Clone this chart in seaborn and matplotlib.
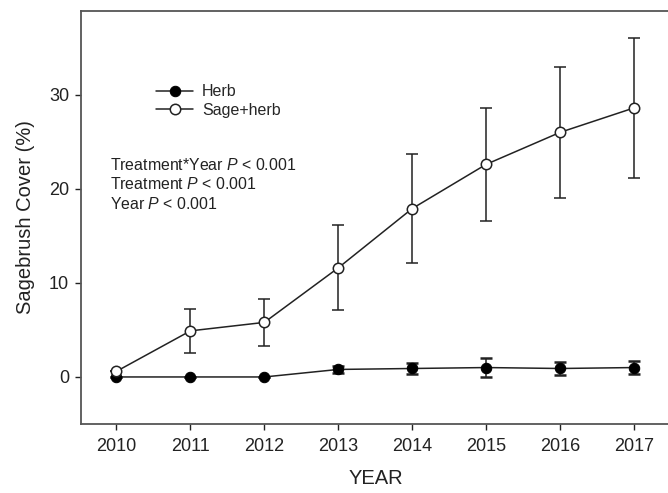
import numpy as np
import pandas as pd
import seaborn as sns
import matplotlib.pyplot as plt

# values
years = [2010, 2011, 2012, 2013, 2014, 2015, 2016, 2017]
herb = [0.0, 0.0, 0.0, 0.8, 0.9, 1.0, 0.9, 1.0]
herb_se = [0.0, 0.0, 0.0, 0.4, 0.6, 1.0, 0.7, 0.7]
sage = [0.6, 4.9, 5.8, 11.6, 17.9, 22.6, 26.0, 28.6]
sage_se = [0.0, 2.3, 2.5, 4.5, 5.8, 6.0, 7.0, 7.4]
stats_lines = ["Treatment*Year $\\it{P}$ < 0.001",
               "Treatment $\\it{P}$ < 0.001",
               "Year $\\it{P}$ < 0.001"]

sns.set_style("ticks")
plt.rcParams['font.family'] = ['Liberation Sans', 'DejaVu Sans']
plt.rcParams['mathtext.fontset'] = 'custom'
plt.rcParams['mathtext.it'] = 'Liberation Sans:italic'
plt.rcParams['mathtext.rm'] = 'Liberation Sans'

df = pd.DataFrame({
    "year": years * 2,
    "cover": herb + sage,
    "se": herb_se + sage_se,
    "trt": ["Herb"] * len(years) + ["Sage+herb"] * len(years),
})

fig = plt.figure(figsize=(6.68, 4.93), dpi=100)
ax = fig.add_axes([81 / 668, 1 - 424 / 493, (671 - 81) / 668, (424 - 11) / 493])

line_col = "#222222"
# error bars first so markers sit on top
for name, z in [("Herb", 2), ("Sage+herb", 4)]:
    d = df[df["trt"] == name]
    ax.errorbar(d["year"], d["cover"], yerr=d["se"], fmt="none", ecolor=line_col,
                elinewidth=1.1, capsize=4.5, capthick=1.8 if name == "Herb" else 1.1, zorder=z)

sns.lineplot(data=df[df["trt"] == "Herb"], x="year", y="cover", ax=ax, color=line_col,
             marker="o", markersize=7.5, markerfacecolor="black", markeredgecolor="black",
             linewidth=1.1, label="Herb", zorder=3)
sns.lineplot(data=df[df["trt"] == "Sage+herb"], x="year", y="cover", ax=ax, color=line_col,
             marker="o", markersize=7.5, markerfacecolor="white", markeredgecolor=line_col,
             markeredgewidth=1.1, linewidth=1.1, label="Sage+herb", zorder=5)

ax.set_xlim(2009.52, 2017.5)
ax.set_ylim(-5, 38.9)
ax.set_xticks(years)
ax.set_yticks([0, 10, 20, 30])
ax.set_xlabel("YEAR", fontsize=14.5, color="#222222", labelpad=10)
ax.set_ylabel("Sagebrush Cover (%)", fontsize=14.5, color="#222222", labelpad=10)
ax.tick_params(labelsize=13, colors="#222222", length=4.3, width=1)
ax.tick_params(axis="x", pad=6)
ax.tick_params(axis="y", pad=4.3)
for s in ax.spines.values():
    s.set_color("#555555")
    s.set_linewidth(1.3)

ax.legend(loc="upper left", bbox_to_anchor=(142 / 668, 1 - 70 / 493),
          bbox_transform=fig.transFigure, frameon=False, fontsize=11.5,
          handlelength=2.3, handletextpad=0.55, labelspacing=0.2)

for i, t in enumerate(stats_lines):
    fig.text(110 / 668, 1 - (165 + i * 19.5) / 493, t, fontsize=11.4, color="#222222",
             va="center", ha="left")

fig.savefig("out.png", dpi=100)
